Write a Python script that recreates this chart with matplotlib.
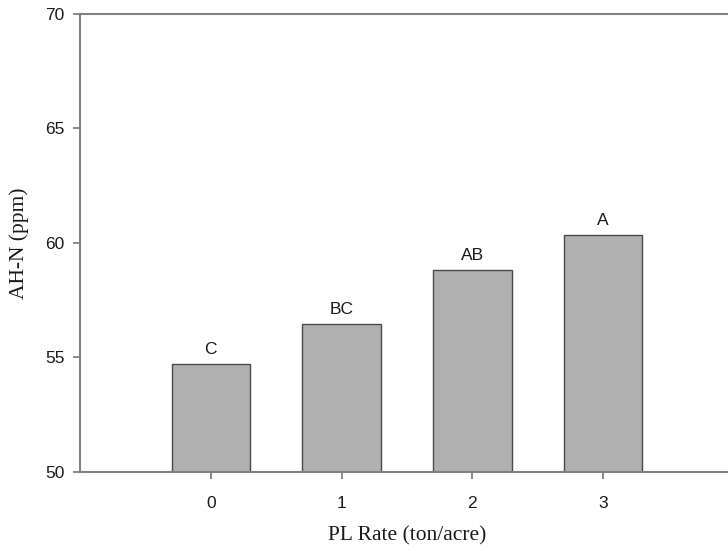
import matplotlib
matplotlib.use("Agg")
import matplotlib.pyplot as plt

categories = ["0", "1", "2", "3"]
values = [54.72, 56.48, 58.81, 60.35]
letters = ["C", "BC", "AB", "A"]
yticks = [50, 55, 60, 65, 70]

W, H = 728, 551
fig = plt.figure(figsize=(W / 100, H / 100), dpi=100)
# axes: left 80px, right beyond edge (734px), top 14px, bottom 472px
ax = fig.add_axes([80 / W, (H - 472) / H, (734 - 80) / W, (472 - 14) / H])

x = list(range(len(categories)))
ax.bar(x, [v - 50 for v in values], bottom=50, width=0.6, color="#b0b0b0",
       edgecolor="#4a4a4a", linewidth=1.0, zorder=2)

for xi, v, lab in zip(x, values, letters):
    ax.annotate(lab, (xi, v), xytext=(0, 5), textcoords="offset points",
                ha="center", va="bottom", fontsize=12.5,
                family="Liberation Sans", color="#1a1a1a")

ax.set_xlim(-1, 4)
ax.set_ylim(50, 70)
ax.set_xticks(x)
ax.set_xticklabels(categories)
ax.set_yticks(yticks)
ax.set_yticklabels([str(t) for t in yticks])

for lab in ax.get_xticklabels() + ax.get_yticklabels():
    lab.set_family("Liberation Sans")
    lab.set_fontsize(12.5)
    lab.set_color("#1a1a1a")

ax.tick_params(axis="both", direction="out", length=5, width=1.2,
               color="#777777", pad=6)
ax.tick_params(axis="x", pad=12)

for s in ["left", "top", "bottom"]:
    ax.spines[s].set_color("#808080")
    ax.spines[s].set_linewidth(1.5)
ax.spines["right"].set_visible(False)

ax.set_ylabel("AH-N (ppm)", family="Liberation Serif", fontsize=15.5,
              color="#1a1a1a", labelpad=12)
ax.set_xlabel("PL Rate (ton/acre)", family="Liberation Serif", fontsize=15.5,
              color="#1a1a1a", labelpad=11)

fig.savefig("out.png", dpi=100)
